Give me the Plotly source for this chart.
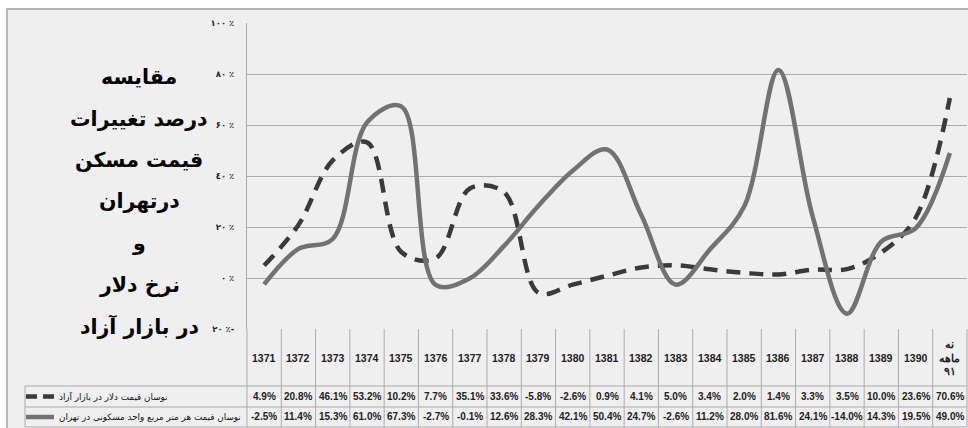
import plotly.graph_objects as go

years = ["1371", "1372", "1373", "1374", "1375", "1376", "1377", "1378", "1379", "1380",
         "1381", "1382", "1383", "1384", "1385", "1386", "1387", "1388", "1389", "1390",
         "نه<br>ماهه<br>۹۱"]
dollar = [4.9, 20.8, 46.1, 53.2, 10.2, 7.7, 35.1, 33.6, -5.8, -2.6, 0.9, 4.1, 5.0, 3.4,
          2.0, 1.4, 3.3, 3.5, 10.0, 23.6, 70.6]
housing = [-2.5, 11.4, 15.3, 61.0, 67.3, -2.7, -0.1, 12.6, 28.3, 42.1, 50.4, 24.7, -2.6,
           11.2, 28.0, 81.6, 24.1, -14.0, 14.3, 19.5, 49.0]
series_names = ["نوسان قیمت دلار در بازار آزاد",
                "نوسان قیمت هر متر مربع واحد مسکونی در تهران"]
tick_vals = [-20, 0, 20, 40, 60, 80, 100]
tick_text = ["۲۰ ٪-", "۰ ٪", "۲۰ ٪", "٤۰ ٪", "۶۰ ٪", "۸۰ ٪", "۱۰۰ ٪"]
title_lines = ["مقایسه", "درصد تغییرات", "قیمت مسکن", "درتهران", "و", "نرخ دلار", "در بازار آزاد"]

W, H = 968, 428
L, R, T, B = 247, 1, 23, 99
PW = W - L - R
PH = H - T - B
n = len(years)

def px(x):
    return (x - L) / PW

def py(y):
    return (H - B - y) / PH

GRID = "#ababab"
BG = "#efefef"
DASH_C = "#3a3a3a"
SOLID_C = "#727272"
FONT = "DejaVu Sans"

xs = list(range(n))
fig = go.Figure()
fig.add_trace(go.Scatter(x=xs, y=dollar, mode="lines", name=series_names[0],
                         line=dict(color=DASH_C, width=4.5, dash="14px,9px", shape="spline", smoothing=1.0)))
fig.add_trace(go.Scatter(x=xs, y=housing, mode="lines", name=series_names[1],
                         line=dict(color=SOLID_C, width=4.5, shape="spline", smoothing=1.0)))

shapes = []
shapes.append(dict(type="rect", xref="paper", yref="paper", x0=px(7), x1=px(W + 10), y0=py(H + 10), y1=py(9),
                   fillcolor=BG, line=dict(color="#a0a0a0", width=1.5), layer="below"))

hdr_top, hdr_bot, r1_bot, r2_bot = H - B, 386, 407, 427
line_style = dict(color=GRID, width=1)
col_w = 1.0 / n
for i in range(n + 1):
    xp = i * col_w
    shapes.append(dict(type="line", xref="paper", yref="paper", x0=xp, x1=xp, y0=py(r2_bot), y1=py(hdr_top),
                       line=line_style))
for yy in [hdr_bot, r1_bot, r2_bot]:
    shapes.append(dict(type="line", xref="paper", yref="paper", x0=px(25), x1=1, y0=py(yy), y1=py(yy),
                       line=line_style))
shapes.append(dict(type="line", xref="paper", yref="paper", x0=px(25), x1=px(25), y0=py(r2_bot), y1=py(hdr_bot),
                   line=line_style))
shapes.append(dict(type="line", xref="paper", yref="paper", x0=px(26), x1=px(54), y0=py(396.5), y1=py(396.5),
                   line=dict(color=DASH_C, width=4.5, dash="11px,6px")))
shapes.append(dict(type="line", xref="paper", yref="paper", x0=px(26), x1=px(54), y0=py(417), y1=py(417),
                   line=dict(color=SOLID_C, width=4.5)))

annotations = []
cell_font = dict(family="Liberation Sans", size=10, color="#222", weight="bold")
for i, yr in enumerate(years):
    xc = (i + 0.5) * col_w
    annotations.append(dict(x=xc, y=py((hdr_top + hdr_bot) / 2), xref="paper", yref="paper", text=yr,
                            showarrow=False, font=dict(family="Liberation Sans", size=10.5, color="#222", weight="bold"),
                            xanchor="center", yanchor="middle"))
    annotations.append(dict(x=xc, y=py((hdr_bot + r1_bot) / 2), xref="paper", yref="paper",
                            text=f"{dollar[i]:.1f}%", showarrow=False, font=cell_font,
                            xanchor="center", yanchor="middle"))
    annotations.append(dict(x=xc, y=py((r1_bot + r2_bot) / 2), xref="paper", yref="paper",
                            text=f"{housing[i]:.1f}%", showarrow=False, font=cell_font,
                            xanchor="center", yanchor="middle"))
for k, (nm, yc) in enumerate(zip(series_names, [(hdr_bot + r1_bot) / 2, (r1_bot + r2_bot) / 2])):
    annotations.append(dict(x=px(57), y=py(yc), xref="paper", yref="paper", text=nm, showarrow=False,
                            font=dict(family=FONT, size=8.8, color="#111"), xanchor="left", yanchor="middle"))
for k, t in enumerate(title_lines):
    annotations.append(dict(x=px(139), y=py(77 + 41.5 * k), xref="paper", yref="paper", text=f"<b>{t}</b>",
                            showarrow=False, font=dict(family=FONT, size=20.5, color="#000"),
                            xanchor="center", yanchor="middle"))

fig.update_layout(
    width=W, height=H, margin=dict(l=L, r=R, t=T, b=B),
    paper_bgcolor="white", plot_bgcolor="rgba(0,0,0,0)",
    showlegend=False, shapes=shapes, annotations=annotations,
    xaxis=dict(range=[-0.5, n - 0.5], showgrid=False, zeroline=False, showticklabels=False,
               ticks="", showline=False, fixedrange=True),
    yaxis=dict(range=[-20, 100], tickvals=tick_vals, ticktext=tick_text, showgrid=True,
               gridcolor=GRID, gridwidth=1, zeroline=False, showline=True, linecolor=GRID, linewidth=1,
               ticks="", ticklabelstandoff=10,
               tickfont=dict(family=FONT, size=8.5, color="#222", weight="bold"),
               fixedrange=True),
)
fig.write_html("out.html")
